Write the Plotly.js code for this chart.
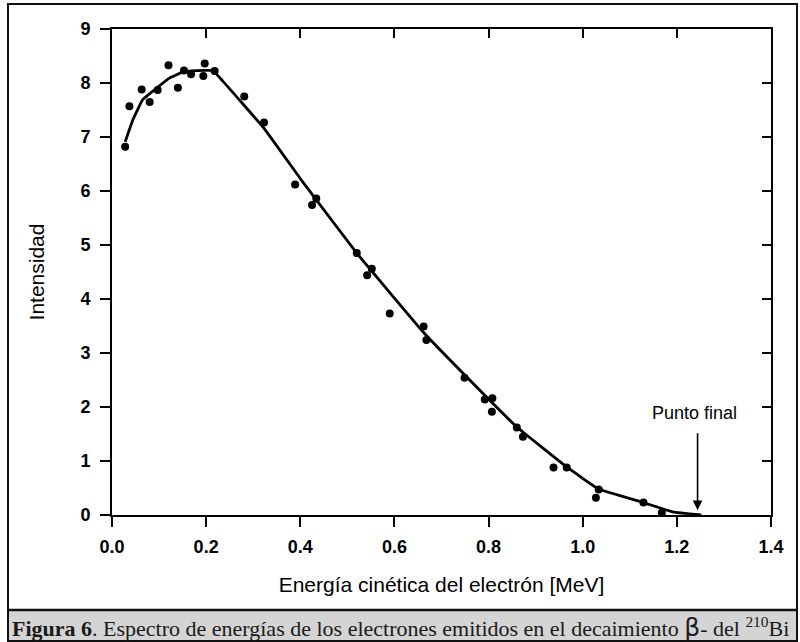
<!DOCTYPE html>
<html>
<head>
<meta charset="utf-8">
<script src="https://cdn.plot.ly/plotly-3.0.1.min.js"></script>
<style>html,body{margin:0;padding:0;background:#fff;}#chart{width:800px;height:642px;}</style>
</head>
<body>
<div id="chart"></div>
<script>
// Measured data points (energy in MeV, intensity)
const energyPts = [0.028, 0.037, 0.063, 0.080, 0.097, 0.120, 0.140, 0.153, 0.168, 0.194, 0.197, 0.218,
  0.281, 0.323, 0.389, 0.425, 0.434, 0.520, 0.542, 0.552, 0.590, 0.662, 0.668, 0.749, 0.792, 0.808,
  0.807, 0.860, 0.873, 0.938, 0.966, 1.028, 1.034, 1.129, 1.168];
const intensityPts = [6.82, 7.57, 7.88, 7.65, 7.87, 8.33, 7.91, 8.23, 8.16, 8.13, 8.36, 8.22,
  7.75, 7.27, 6.12, 5.74, 5.86, 4.85, 4.44, 4.56, 3.73, 3.49, 3.24, 2.54, 2.14, 2.16,
  1.91, 1.62, 1.45, 0.88, 0.88, 0.32, 0.47, 0.23, 0.04];

// Fitted curve
const fitEnergy = [0.028, 0.044, 0.065, 0.094, 0.122, 0.150, 0.179, 0.214, 0.235, 0.323, 0.405, 0.432,
  0.520, 0.664, 0.795, 0.860, 0.966, 1.034, 1.129, 1.191, 1.252];
const fitIntensity = [6.91, 7.31, 7.69, 7.90, 8.09, 8.20, 8.23, 8.23, 8.04, 7.16, 6.17, 5.86,
  4.85, 3.36, 2.19, 1.63, 0.89, 0.48, 0.23, 0.06, 0.0];

const xTicks = [0.0, 0.2, 0.4, 0.6, 0.8, 1.0, 1.2, 1.4];
const xTickText = ['0.0', '0.2', '0.4', '0.6', '0.8', '1.0', '1.2', '1.4'];
const yTicks = [0, 1, 2, 3, 4, 5, 6, 7, 8, 9];

const endPoint = {x: 1.244, y: 0.09, tailY: 1.54, label: 'Punto final', labelY: 1.89, labelX: 1.238};

const caption = '<b>Figura 6</b>. Espectro de energías de los electrones emitidos en el decaimiento ' +
  '<span style="font-family:DejaVu Sans;font-size:25px">β</span>- del <sup>210</sup>Bi';

const W = 800, H = 642, L = 112, R = 29, T = 29, B = 127;
const pw = W - L - R, ph = H - T - B;
const px = v => (v - L) / pw;
const py = v => (H - B - v) / ph;

const tickFont = {family: 'Liberation Sans, Arial, sans-serif', size: 18, color: '#000', weight: 700};
const titleFont = {family: 'Liberation Sans, Arial, sans-serif', size: 21, color: '#000'};

const traces = [
  {x: fitEnergy, y: fitIntensity, mode: 'lines', type: 'scatter',
   line: {color: '#000', width: 2.8, shape: 'spline', smoothing: 0.25}, hoverinfo: 'skip', showlegend: false},
  {x: energyPts, y: intensityPts, mode: 'markers', type: 'scatter',
   marker: {color: '#000', size: 8}, showlegend: false},
  {x: [null], y: [null], xaxis: 'x2', yaxis: 'y2', mode: 'markers', showlegend: false, hoverinfo: 'skip'}
];

const layout = {
  width: W, height: H,
  margin: {l: L, r: R, t: T, b: B, pad: 0},
  paper_bgcolor: '#fff', plot_bgcolor: '#fff',
  showlegend: false,
  xaxis: {range: [0, 1.4], tickvals: xTicks, ticktext: xTickText, ticks: 'outside', ticklen: 10, tickwidth: 2,
    tickcolor: '#000', showline: true, linecolor: '#000', linewidth: 2, showgrid: false, zeroline: false,
    tickfont: tickFont, ticklabelstandoff: 4,
    title: {text: 'Energía cinética del electrón [MeV]', font: titleFont, standoff: 22}},
  yaxis: {range: [0, 9], tickvals: yTicks, ticks: 'outside', ticklen: 10, tickwidth: 2,
    tickcolor: '#000', showline: true, linecolor: '#000', linewidth: 2, showgrid: false, zeroline: false,
    tickfont: tickFont, ticklabelstandoff: 6,
    title: {text: 'Intensidad', font: titleFont, standoff: 30}},
  xaxis2: {range: [0, 1.4], tickvals: xTicks, overlaying: 'x', side: 'top', anchor: 'y2', ticks: 'inside', ticklen: 9,
    tickwidth: 2, tickcolor: '#000', showline: true, linecolor: '#000', linewidth: 2, showgrid: false,
    zeroline: false, showticklabels: false},
  yaxis2: {range: [0, 9], tickvals: yTicks, overlaying: 'y', side: 'right', anchor: 'x2', ticks: 'inside', ticklen: 9,
    tickwidth: 2, tickcolor: '#000', showline: true, linecolor: '#000', linewidth: 2, showgrid: false,
    zeroline: false, showticklabels: false},
  shapes: [
    {type: 'rect', xref: 'paper', yref: 'paper', x0: px(8), x1: px(797), y0: py(641), y1: py(610),
     fillcolor: '#d4d4d4', line: {width: 0}, layer: 'below'},
    {type: 'rect', xref: 'paper', yref: 'paper', x0: px(8), x1: px(797), y0: py(641), y1: py(4),
     line: {color: '#111', width: 2}, fillcolor: 'rgba(0,0,0,0)'},
    {type: 'line', xref: 'paper', yref: 'paper', x0: px(8), x1: px(797), y0: py(610), y1: py(610),
     line: {color: '#111', width: 2.5}}
  ],
  annotations: [
    {x: endPoint.labelX, y: endPoint.labelY, xref: 'x', yref: 'y', text: endPoint.label, showarrow: false,
     font: {family: 'Liberation Sans, Arial, sans-serif', size: 18, color: '#000'}, xanchor: 'center', yanchor: 'middle'},
    {x: endPoint.x, y: endPoint.y, ax: endPoint.x, ay: endPoint.tailY, xref: 'x', yref: 'y', axref: 'x', ayref: 'y',
     text: '', showarrow: true, arrowhead: 2, arrowsize: 1.2, arrowwidth: 1.6, arrowcolor: '#000'},
    {x: px(10), y: py(627), xref: 'paper', yref: 'paper', text: caption, showarrow: false,
     xanchor: 'left', yanchor: 'middle',
     font: {family: 'Liberation Serif, Times New Roman, serif', size: 22, color: '#1a1a1a'}}
  ]
};

Plotly.newPlot('chart', traces, layout, {staticPlot: true, displayModeBar: false});
</script>
</body>
</html>
